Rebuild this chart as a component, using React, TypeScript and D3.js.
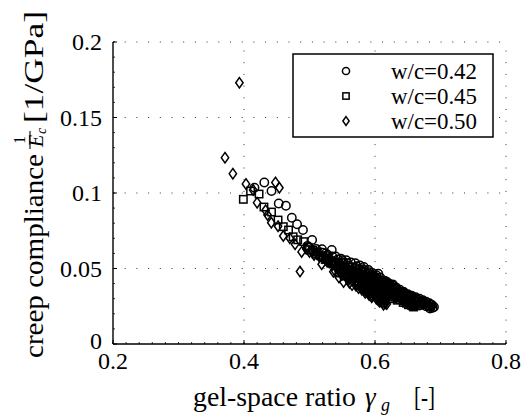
import React from "react";
import * as d3 from "d3";

const xTicks = [0.2, 0.4, 0.6, 0.8];
const yTicks = [0, 0.05, 0.1, 0.15, 0.2];
const xTickLabels = ["0.2", "0.4", "0.6", "0.8"];
const yTickLabels = ["0", "0.05", "0.1", "0.15", "0.2"];
const legendLabels = ["w/c=0.42", "w/c=0.45", "w/c=0.50"];

const wc42: [number, number][] = [
  [0.416, 0.1035], [0.431, 0.107], [0.442, 0.1013], [0.453, 0.093], [0.464, 0.0916], [0.473, 0.0836],
  [0.481, 0.0793], [0.49, 0.0755], [0.504, 0.0689], [0.519, 0.0627], [0.534, 0.0623],
  [0.497, 0.065], [0.51, 0.063], [0.525, 0.06], [0.54, 0.058], [0.548, 0.0565], [0.556, 0.0555],
  [0.563, 0.054], [0.57, 0.0535], [0.577, 0.052], [0.583, 0.051], [0.59, 0.049], [0.596, 0.047],
  [0.602, 0.0455], [0.608, 0.044], [0.614, 0.042], [0.62, 0.0405], [0.626, 0.039], [0.632, 0.0375],
  [0.638, 0.036], [0.644, 0.0345], [0.65, 0.033], [0.656, 0.032], [0.662, 0.031], [0.668, 0.03],
  [0.673, 0.029], [0.678, 0.028], [0.683, 0.027], [0.687, 0.0258], [0.69, 0.0245],
  [0.53, 0.056], [0.538, 0.0545], [0.545, 0.053], [0.555, 0.051], [0.565, 0.049], [0.575, 0.047],
  [0.585, 0.045], [0.595, 0.043], [0.605, 0.041], [0.615, 0.039], [0.625, 0.037], [0.635, 0.0345],
  [0.645, 0.0325], [0.655, 0.0305], [0.665, 0.0285], [0.675, 0.0265], [0.685, 0.0245], [0.688, 0.024],
  [0.552, 0.0535], [0.56, 0.052], [0.57, 0.0505], [0.58, 0.0485], [0.59, 0.0465], [0.6, 0.0445],
  [0.61, 0.042], [0.62, 0.0385], [0.63, 0.036], [0.64, 0.0335], [0.65, 0.031], [0.66, 0.029],
  [0.67, 0.027], [0.68, 0.0255],
  [0.575, 0.0495], [0.585, 0.0475], [0.595, 0.0455], [0.605, 0.0425], [0.615, 0.0405], [0.625, 0.038],
  [0.635, 0.0355], [0.645, 0.0335], [0.655, 0.0315], [0.665, 0.0295], [0.675, 0.0275], [0.685, 0.026],
  [0.58, 0.0455], [0.59, 0.0435], [0.6, 0.0415], [0.61, 0.0395], [0.62, 0.0365], [0.63, 0.034],
  [0.64, 0.032], [0.65, 0.0295], [0.66, 0.0275], [0.67, 0.026], [0.678, 0.025], [0.684, 0.0235],
  [0.567, 0.0475], [0.578, 0.0445], [0.588, 0.042], [0.598, 0.0395], [0.608, 0.0375], [0.618, 0.035],
  [0.628, 0.033], [0.638, 0.031], [0.648, 0.029], [0.658, 0.027], [0.668, 0.0255],
  [0.52, 0.0605], [0.528, 0.059], [0.535, 0.058], [0.543, 0.056], [0.55, 0.0555], [0.558, 0.0535],
  [0.622, 0.0395], [0.633, 0.0365], [0.643, 0.0345], [0.653, 0.032], [0.663, 0.03], [0.672, 0.028],
  [0.572, 0.0515], [0.582, 0.0495], [0.592, 0.0475], [0.602, 0.0435], [0.612, 0.041], [0.622, 0.0375],
  [0.632, 0.035], [0.642, 0.033], [0.652, 0.0305], [0.662, 0.0285], [0.672, 0.0268], [0.682, 0.0248],
  [0.605, 0.0465], [0.617, 0.0415], [0.627, 0.0395],
];

const wc45: [number, number][] = [
  [0.399, 0.0958], [0.41, 0.1013], [0.423, 0.0993], [0.4305, 0.0907], [0.442, 0.0874], [0.452, 0.0821],
  [0.46, 0.0777], [0.468, 0.0755], [0.475, 0.071], [0.482, 0.069], [0.491, 0.0678], [0.498, 0.064],
  [0.505, 0.062], [0.512, 0.061], [0.52, 0.058], [0.527, 0.057], [0.534, 0.055], [0.54, 0.054],
  [0.546, 0.052], [0.553, 0.051], [0.56, 0.049], [0.566, 0.048], [0.572, 0.046], [0.578, 0.045],
  [0.585, 0.043], [0.59, 0.042], [0.596, 0.041], [0.602, 0.039], [0.608, 0.038], [0.614, 0.036],
  [0.62, 0.035], [0.626, 0.034], [0.632, 0.032], [0.638, 0.031], [0.644, 0.03], [0.65, 0.028],
  [0.655, 0.027], [0.659, 0.0245],
  [0.545, 0.047], [0.553, 0.045], [0.562, 0.043], [0.571, 0.041], [0.58, 0.039], [0.589, 0.037],
  [0.598, 0.035], [0.607, 0.033], [0.616, 0.0315], [0.625, 0.03], [0.634, 0.029], [0.643, 0.0275],
  [0.651, 0.026], [0.658, 0.025],
  [0.55, 0.054], [0.565, 0.051], [0.58, 0.048], [0.595, 0.045], [0.61, 0.041], [0.625, 0.037],
  [0.64, 0.034], [0.655, 0.031],
  [0.556, 0.049], [0.568, 0.046], [0.576, 0.0435], [0.584, 0.041], [0.592, 0.039], [0.6, 0.037],
  [0.604, 0.036], [0.612, 0.0345], [0.618, 0.033], [0.622, 0.0325], [0.63, 0.031], [0.636, 0.0305],
  [0.646, 0.029], [0.652, 0.0275], [0.66, 0.026],
  [0.57, 0.0445], [0.582, 0.0425], [0.594, 0.04], [0.606, 0.0365], [0.618, 0.034], [0.628, 0.0325],
  [0.638, 0.0295], [0.648, 0.027], [0.656, 0.0255],
  [0.5, 0.0625], [0.51, 0.0595], [0.517, 0.0585], [0.524, 0.056], [0.53, 0.0555], [0.537, 0.0535],
  [0.574, 0.0475], [0.586, 0.0445], [0.598, 0.0425], [0.61, 0.0385], [0.62, 0.036], [0.632, 0.0335],
  [0.642, 0.0315], [0.652, 0.0295], [0.586, 0.0395], [0.598, 0.0375], [0.61, 0.0355], [0.622, 0.0338],
  [0.634, 0.031], [0.645, 0.0285], [0.654, 0.0265], [0.66, 0.0275],
];

const wc50: [number, number][] = [
  [0.393, 0.173], [0.371, 0.1234], [0.383, 0.1128], [0.403, 0.106], [0.448, 0.107], [0.454, 0.1035],
  [0.4855, 0.048], [0.414, 0.102], [0.42, 0.0936], [0.433, 0.0885], [0.436, 0.0854], [0.4417, 0.0803],
  [0.452, 0.078], [0.46, 0.0715], [0.47, 0.07], [0.478, 0.066], [0.488, 0.061], [0.495, 0.063],
  [0.5, 0.061], [0.507, 0.059], [0.5186, 0.0528], [0.515, 0.058], [0.525, 0.056], [0.53, 0.054],
  [0.5364, 0.0479], [0.54, 0.051], [0.548, 0.049], [0.559, 0.0424], [0.555, 0.047], [0.562, 0.045],
  [0.568, 0.043], [0.574, 0.041], [0.58, 0.039], [0.586, 0.037], [0.592, 0.035], [0.598, 0.033],
  [0.604, 0.031], [0.61, 0.029], [0.616, 0.027],
  [0.56, 0.049], [0.57, 0.046], [0.58, 0.044], [0.59, 0.041], [0.6, 0.038], [0.61, 0.035], [0.615, 0.031],
  [0.565, 0.039], [0.575, 0.037], [0.585, 0.034], [0.595, 0.031], [0.605, 0.029], [0.612, 0.0275],
  [0.545, 0.044], [0.552, 0.041],
  [0.55, 0.046], [0.558, 0.044], [0.565, 0.042], [0.572, 0.04], [0.578, 0.038], [0.584, 0.036],
  [0.59, 0.034], [0.596, 0.032], [0.602, 0.03], [0.607, 0.028], [0.613, 0.026], [0.618, 0.0265],
  [0.563, 0.047], [0.573, 0.044], [0.583, 0.041], [0.593, 0.038], [0.603, 0.035], [0.611, 0.032],
  [0.617, 0.029], [0.57, 0.0415], [0.58, 0.036], [0.588, 0.035], [0.6, 0.033], [0.608, 0.031],
  [0.505, 0.0615], [0.512, 0.0595], [0.52, 0.057], [0.527, 0.0545], [0.535, 0.0525], [0.543, 0.05],
  [0.557, 0.0455], [0.566, 0.0445], [0.576, 0.0425], [0.586, 0.0395], [0.596, 0.036], [0.606, 0.0335],
  [0.614, 0.0295], [0.561, 0.0405], [0.571, 0.0385], [0.581, 0.0365], [0.591, 0.0325], [0.601, 0.0315],
  [0.609, 0.0285], [0.538, 0.049], [0.548, 0.0465],
];

const W = 532;
const H = 417;
const M = { left: 113, right: 506, top: 42, bottom: 344 };
const FONT = "'Liberation Serif', 'Times New Roman', serif";

type Shape = "circle" | "square" | "diamond";

function Marker({ x, y, shape, s = 1 }: { x: number; y: number; shape: Shape; s?: number }) {
  const common = { fill: "none", stroke: "#000", strokeWidth: 1.5 };
  if (shape === "circle") return <circle cx={x} cy={y} r={4.2 * s} {...common} />;
  if (shape === "square") return <rect x={x - 3.7 * s} y={y - 3.7 * s} width={7.4 * s} height={7.4 * s} {...common} />;
  const w = 3.7 * s, h = 5.2 * s;
  return <path d={`M${x},${y - h}L${x + w},${y}L${x},${y + h}L${x - w},${y}Z`} {...common} />;
}

export default function App() {
  const x = d3.scaleLinear().domain([0.2, 0.8]).range([M.left, M.right]);
  const y = d3.scaleLinear().domain([0, 0.2]).range([M.bottom, M.top]);
  const xMinor = d3.range(0.2, 0.8001, 0.02);
  const yMinor = d3.range(0, 0.2001, 0.01);
  const series: { data: [number, number][]; shape: Shape }[] = [
    { data: wc42, shape: "circle" },
    { data: wc45, shape: "square" },
    { data: wc50, shape: "diamond" },
  ];
  const legendY = [71, 96, 121];
  const tf = { fontFamily: FONT };

  return (
    <svg width={W} height={H} style={{ position: "absolute", left: 0, top: 0, background: "#fff", fontFamily: FONT }}>
      <rect x={0} y={0} width={W} height={H} fill="#fff" />
      {xTicks.slice(1).map((t) => (
        <line key={"gx" + t} x1={x(t)} x2={x(t)} y1={M.bottom} y2={M.top} stroke="#333" strokeWidth={1} strokeDasharray="1 10.7" />
      ))}
      {yTicks.slice(1).map((t) => (
        <line key={"gy" + t} x1={M.left} x2={M.right} y1={y(t)} y2={y(t)} stroke="#333" strokeWidth={1} strokeDasharray="1 10.7" />
      ))}
      {xMinor.map((t, i) => (
        <line key={"mx" + i} x1={x(t)} x2={x(t)} y1={M.bottom} y2={M.bottom - 2} stroke="#000" strokeWidth={0.8} />
      ))}
      {yMinor.map((t, i) => (
        <line key={"my" + i} x1={M.left} x2={M.left + 2} y1={y(t)} y2={y(t)} stroke="#000" strokeWidth={0.8} />
      ))}
      {xTicks.map((t) => (
        <line key={"tx" + t} x1={x(t)} x2={x(t)} y1={M.bottom} y2={M.bottom - 4} stroke="#000" strokeWidth={1} />
      ))}
      {yTicks.map((t) => (
        <line key={"ty" + t} x1={M.left} x2={M.left + 4} y1={y(t)} y2={y(t)} stroke="#000" strokeWidth={1} />
      ))}
      {series.map((s, si) => (
        <g key={"s" + si}>
          {s.data.map((d, i) => (
            <Marker key={i} x={x(d[0])} y={y(d[1])} shape={s.shape} />
          ))}
        </g>
      ))}
      <line x1={M.left} x2={M.left} y1={M.top} y2={M.bottom} stroke="#000" strokeWidth={1.4} />
      <line x1={M.left} x2={M.right} y1={M.bottom} y2={M.bottom} stroke="#000" strokeWidth={1.4} />
      {xTicks.map((t, i) => (
        <text key={"lx" + t} x={x(t)} y={369} fontSize={24} textAnchor="middle" style={tf}>{xTickLabels[i]}</text>
      ))}
      {yTicks.map((t, i) => (
        <text key={"ly" + t} x={102} y={y(t) + (t === 0 ? 5 : 8)} fontSize={24} textAnchor="end" style={tf}>{yTickLabels[i]}</text>
      ))}
      <text x={193} y={406} fontSize={27} textLength={163} lengthAdjust="spacingAndGlyphs" style={tf}>gel-space ratio</text>
      <text x={365} y={406} fontSize={27} fontStyle="italic" style={tf}>γ</text>
      <text x={381} y={411} fontSize={18} fontStyle="italic" style={tf}>g</text>
      <text x={414} y={406} fontSize={27} textLength={21} lengthAdjust="spacingAndGlyphs" style={tf}>[-]</text>
      <g transform="translate(43,0) rotate(-90)">
        <text x={-358} y={0} fontSize={27} textLength={204} lengthAdjust="spacingAndGlyphs" style={tf}>creep compliance</text>
        <text x={-140} y={-18} fontSize={16} textAnchor="middle" style={tf}>1</text>
        <line x1={-149} x2={-131} y1={-13} y2={-13} stroke="#000" strokeWidth={1.1} />
        <text x={-147} y={0} fontSize={20} fontStyle="italic" style={tf}>E</text>
        <text x={-134} y={3} fontSize={14} fontStyle="italic" style={tf}>c</text>
        <text x={-123} y={0} fontSize={27} textLength={112} lengthAdjust="spacingAndGlyphs" style={tf}>[1/GPa]</text>
      </g>
      <rect x={293} y={54} width={200} height={83} fill="#fff" stroke="#000" strokeWidth={1.5} />
      {series.map((s, i) => (
        <g key={"lg" + i}>
          <Marker x={346} y={legendY[i]} shape={s.shape} s={0.85} />
          <text x={391} y={legendY[i] + 8} fontSize={23} textLength={86} lengthAdjust="spacingAndGlyphs" style={tf}>{legendLabels[i]}</text>
        </g>
      ))}
    </svg>
  );
}
